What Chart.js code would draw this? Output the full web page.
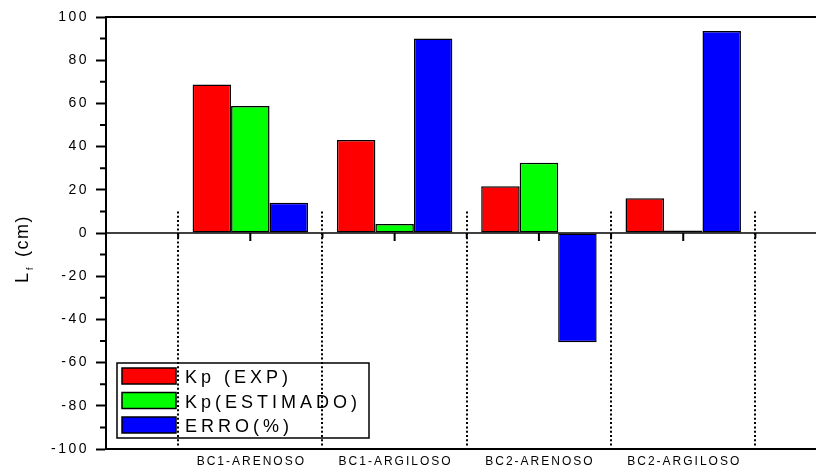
<!DOCTYPE html>
<html>
<head>
<meta charset="utf-8">
<script src="https://cdn.jsdelivr.net/npm/chart.js@4.4.0/dist/chart.umd.min.js"></script>
<style>
  html, body { margin: 0; padding: 0; background: #fff; }
  #wrap { width: 816px; height: 468px; }
</style>
</head>
<body>
<div id="wrap"><canvas id="chart" width="816" height="468"></canvas></div>
<script>
// Soil categories and the three series per category
const CATEGORIES   = ['BC1-ARENOSO', 'BC1-ARGILOSO', 'BC2-ARENOSO', 'BC2-ARGILOSO'];
const KP_EXP       = [68.8, 43.0, 21.6, 16.1];
const KP_ESTIMADO  = [58.8, 4.2, 32.5, 1.1];
const ERRO         = [14.0, 90.0, -50.6, 93.5];
const SERIES_NAMES = ['Kp (EXP)', 'Kp(ESTIMADO)', 'ERRO(%)'];
const Y_TICKS      = [-100, -80, -60, -40, -20, 0, 20, 40, 60, 80, 100];

const FONT = '"Liberation Sans", Arial, Helvetica, sans-serif';

const toPoints = arr => arr.map((v, i) => ({ x: i, y: v }));

// ─── Frame lines, minor ticks and dotted separators ─────────────────────────
const framePlugin = {
  id: 'frame',
  beforeDraw(chart) {
    // spacing used by the y tick labels that Chart.js draws
    chart.ctx.letterSpacing = '2.5px';
  },
  afterDatasetsDraw(chart) {
    const { ctx, chartArea: area, scales: { x, y } } = chart;
    const y0 = y.getPixelForValue(0);
    const yTop = y.getPixelForValue(Y_TICKS[Y_TICKS.length - 1]);

    ctx.save();
    ctx.letterSpacing = '0px';
    ctx.strokeStyle = '#000';

    ctx.lineWidth = 2;
    ctx.beginPath();
    ctx.moveTo(area.left, yTop);
    ctx.lineTo(area.right, yTop);
    // minor ticks on the y axis
    for (let i = 0; i < Y_TICKS.length - 1; i++) {
      const py = y.getPixelForValue((Y_TICKS[i] + Y_TICKS[i + 1]) / 2);
      ctx.moveTo(area.left - 6, py);
      ctx.lineTo(area.left, py);
    }
    // ticks hanging below the zero line
    CATEGORIES.forEach((c, i) => {
      const px = x.getPixelForValue(i);
      ctx.moveTo(px, y0);
      ctx.lineTo(px, y0 + 8);
    });
    for (let i = 0; i <= CATEGORIES.length; i++) {
      const px = x.getPixelForValue(i - 0.5);
      ctx.moveTo(px, y0);
      ctx.lineTo(px, y0 + 5);
    }
    ctx.stroke();

    // zero line
    ctx.lineWidth = 1.5;
    ctx.beginPath();
    ctx.moveTo(area.left, y0);
    ctx.lineTo(area.right, y0);
    ctx.stroke();

    // dotted separators between categories
    ctx.setLineDash([2, 2.3]);
    ctx.lineWidth = 2;
    ctx.beginPath();
    const yStart = y.getPixelForValue(10);
    for (let i = 0; i <= CATEGORIES.length; i++) {
      const px = Math.round(x.getPixelForValue(i - 0.5));
      ctx.moveTo(px, yStart);
      ctx.lineTo(px, area.bottom);
    }
    ctx.stroke();
    ctx.restore();
  },
  afterDraw(chart) {
    const { ctx, chartArea: area, scales: { x } } = chart;
    ctx.save();

    // category labels under the plot
    ctx.fillStyle = '#000';
    ctx.font = '12px ' + FONT;
    ctx.letterSpacing = '2px';
    ctx.textAlign = 'center';
    ctx.textBaseline = 'alphabetic';
    CATEGORIES.forEach((c, i) => {
      ctx.fillText(c, x.getPixelForValue(i) + 1, area.bottom + 16);
    });

    // boxed legend in the lower-left corner
    const left = area.left + 11, bottom = area.bottom - 11;
    const w = 252, h = 75, top = bottom - h;
    ctx.letterSpacing = '0px';
    ctx.lineWidth = 1.5;
    ctx.strokeStyle = '#000';
    ctx.strokeRect(left, top, w, h);
    ctx.textAlign = 'left';
    ctx.font = '18px ' + FONT;
    chart.data.datasets.forEach((ds, i) => {
      const sy = top + 5 + i * 24.5;
      ctx.fillStyle = ds.backgroundColor;
      ctx.fillRect(left + 5, sy, 54, 16);
      ctx.strokeRect(left + 5, sy, 54, 16);
      ctx.fillStyle = '#000';
      ctx.letterSpacing = '4px';
      ctx.fillText(ds.label, left + 68, sy + 15);
      ctx.letterSpacing = '0px';
    });

    // y axis title: L with subscript f, then (cm)
    ctx.translate(27.5, 283);
    ctx.rotate(-Math.PI / 2);
    ctx.font = '18px ' + FONT;
    ctx.fillText('L', 0, 0);
    ctx.font = '9px ' + FONT;
    ctx.fillText('f', 13, 5);
    ctx.font = '18px ' + FONT;
    ctx.letterSpacing = '1.5px';
    ctx.fillText('(cm)', 26, 0);
    ctx.restore();
  }
};

const datasets = [KP_EXP, KP_ESTIMADO, ERRO].map((vals, i) => ({
  label: SERIES_NAMES[i],
  data: toPoints(vals),
  backgroundColor: ['#ff0000', '#00ff00', '#0000ff'][i],
  borderColor: '#000',
  borderWidth: 1.5,
  borderSkipped: false,
  categoryPercentage: 0.8,
  barPercentage: 1.0,
}));

new Chart(document.getElementById('chart'), {
  type: 'bar',
  data: { datasets },
  options: {
    responsive: false,
    animation: false,
    devicePixelRatio: 1,
    layout: { padding: { top: 17, right: 0, left: 0, bottom: 0 } },
    plugins: {
      legend: { display: false },
      tooltip: { enabled: false },
    },
    scales: {
      x: {
        type: 'linear',
        offset: false,
        min: -1,
        max: 3.92,
        afterBuildTicks: s => { s.ticks = CATEGORIES.map((c, i) => ({ value: i })); },
        grid: { display: true, offset: false, drawOnChartArea: false, drawTicks: false },
        border: { display: true, color: '#000', width: 2 },
        ticks: { display: false },
        afterFit: s => { s.height = 19; },
      },
      y: {
        min: Y_TICKS[0],
        max: Y_TICKS[Y_TICKS.length - 1],
        afterBuildTicks: s => { s.ticks = Y_TICKS.map(v => ({ value: v })); },
        grid: {
          drawOnChartArea: false,
          drawTicks: true,
          tickLength: 10,
          tickWidth: 2,
          tickColor: '#000',
        },
        border: { color: '#000', width: 2 },
        ticks: {
          color: '#000',
          padding: 7,
          font: { family: FONT, size: 14 },
        },
        afterFit: s => { s.width = 106; },
      },
    },
  },
  plugins: [framePlugin],
});
</script>
</body>
</html>
